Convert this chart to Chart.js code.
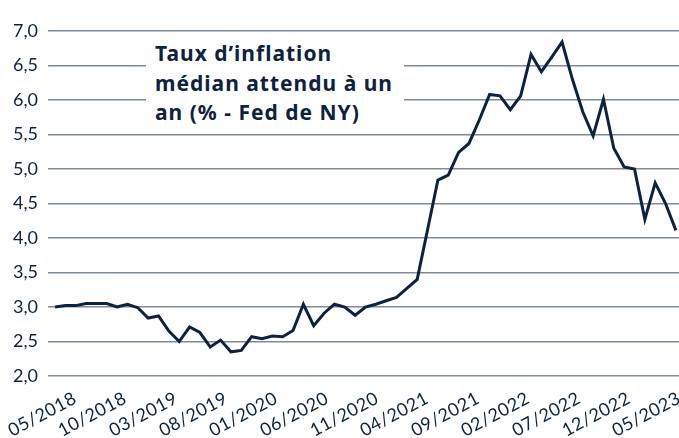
<!DOCTYPE html>
<html>
<head>
<meta charset="utf-8">
<script src="https://cdn.jsdelivr.net/npm/chart.js"></script>
<style>
    html, body { margin: 0; padding: 0; background: #fff; }
    #wrap { position: relative; width: 679px; height: 438px; overflow: hidden; }
    #title {
        position: absolute; left: 146px; top: 39px; width: 258px; height: 88px;
        background: #fff; padding-left: 9px; box-sizing: border-box;
        font-family: 'Noto Sans', sans-serif; font-weight: 700; font-size: 21px;
        letter-spacing: 1px; line-height: 29.5px; color: #0d2240; white-space: nowrap;
    }
    .xlab {
        position: absolute; font-family: Lato, sans-serif; font-size: 18px; line-height: 18px;
        letter-spacing: 0.5px; color: #0d2240; white-space: nowrap;
        transform-origin: 100% 0; transform: rotate(-28deg);
    }
</style>
</head>
<body>
<div id="wrap">
    <canvas id="chart" width="679" height="438"></canvas>
    <div id="title">Taux d’inflation<br>médian attendu à un<br>an (% - Fed de NY)</div>
    <div id="xlabels"></div>
</div>
<script>
// Mois affichés sur l'axe (un sur cinq)
const monthLabels = ['05/2018', '10/2018', '03/2019', '08/2019', '01/2020', '06/2020', '11/2020',
    '04/2021', '09/2021', '02/2022', '07/2022', '12/2022', '05/2023'];

// Inflation médiane attendue à un an, mensuelle 05/2018 -> 05/2023
const inflationValues = [
    3.00, 3.02, 3.02, 3.05, 3.05, 3.05, 3.00, 3.04, 2.99, 2.84,
    2.87, 2.65, 2.50, 2.71, 2.63, 2.42, 2.52, 2.35, 2.37, 2.57,
    2.54, 2.58, 2.57, 2.66, 3.04, 2.73, 2.91, 3.04, 3.00, 2.88,
    3.00, 3.04, 3.09, 3.14, 3.27, 3.40, 4.12, 4.84, 4.91, 5.24,
    5.37, 5.71, 6.08, 6.06, 5.86, 6.06, 6.66, 6.41, 6.62, 6.84,
    6.30, 5.83, 5.48, 6.01, 5.30, 5.03, 5.00, 4.27, 4.80, 4.50,
    4.11
];

const yTickLabels = ['2,0', '2,5', '3,0', '3,5', '4,0', '4,5', '5,0', '5,5', '6,0', '6,5', '7,0'];

const NAVY = '#0d2240';
const GRID = '#7d8aa0';

const points = inflationValues.map((v, i) => ({ x: i, y: v }));

// labels de l'axe x en HTML (inclinés), placés avec l'échelle x
const htmlMonthLabels = {
    id: 'htmlMonthLabels',
    afterRender(chart) {
        const box = document.getElementById('xlabels');
        if (box.childElementCount) return;
        const scale = chart.scales.x;
        monthLabels.forEach((label, k) => {
            const el = document.createElement('div');
            el.className = 'xlab';
            el.textContent = label;
            const x = scale.getPixelForValue(k * 5) + 15 - 1.35 * k;
            el.style.right = (chart.width - x) + 'px';
            el.style.top = (scale.top + 12) + 'px';
            box.appendChild(el);
        });
    }
};

new Chart(document.getElementById('chart'), {
    type: 'line',
    data: {
        datasets: [{
            data: points,
            borderColor: NAVY,
            borderWidth: 3,
            pointRadius: 0,
            tension: 0,
            borderJoinStyle: 'miter'
        }]
    },
    options: {
        responsive: false,
        animation: false,
        layout: { padding: { top: 31, right: 0, left: 0, bottom: 0 } },
        plugins: { legend: { display: false }, tooltip: { enabled: false } },
        scales: {
            x: {
                type: 'linear',
                min: -0.68,
                max: 60.3,
                grid: { display: false, drawTicks: false },
                border: { display: false },
                afterBuildTicks: (scale) => {
                    scale.ticks = monthLabels.map((_, i) => ({ value: i * 5 }));
                },
                afterFit: (scale) => { scale.height = 62; },
                ticks: { display: false }
            },
            y: {
                min: 2,
                max: 7,
                grid: { color: GRID, lineWidth: 1.5, drawTicks: false },
                border: { display: false },
                afterFit: (scale) => { scale.width = 48; },
                afterBuildTicks: (scale) => {
                    scale.ticks = yTickLabels.map((_, i) => ({ value: 2 + i * 0.5 }));
                },
                ticks: {
                    padding: 10,
                    color: NAVY,
                    font: { family: 'Lato, sans-serif', size: 18 },
                    callback: (v) => yTickLabels[Math.round((v - 2) * 2)]
                }
            }
        }
    },
    plugins: [htmlMonthLabels]
});
</script>
</body>
</html>
